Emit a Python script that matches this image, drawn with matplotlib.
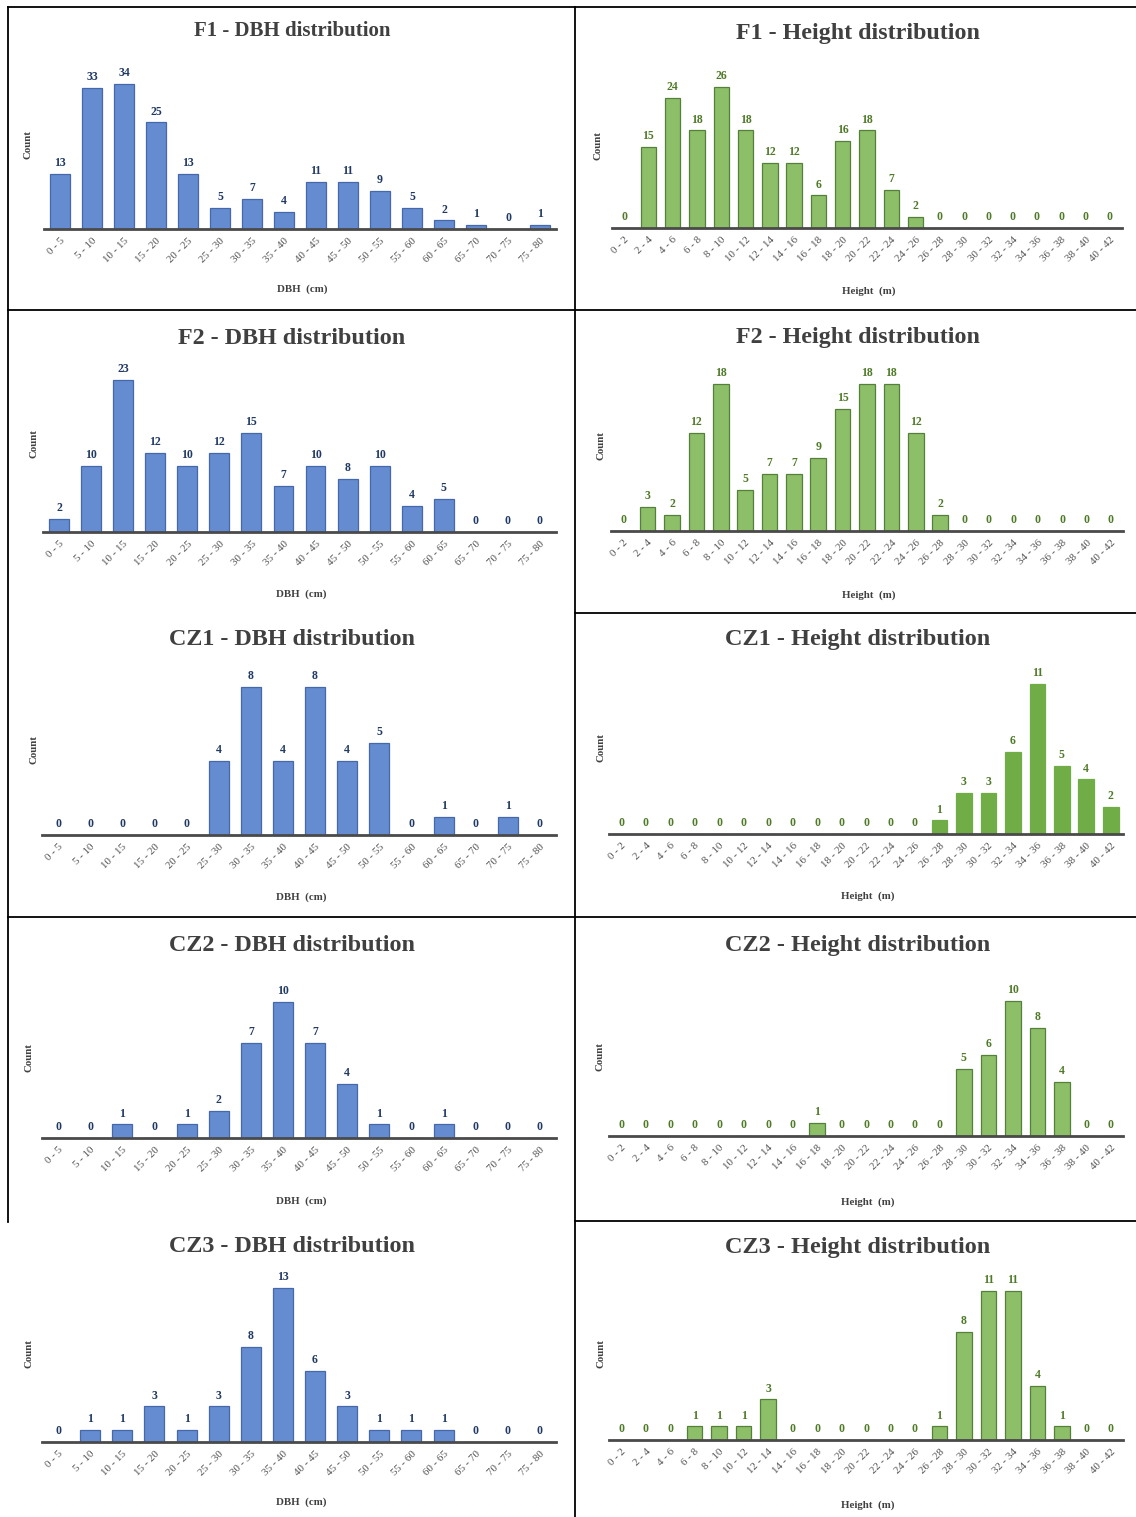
import matplotlib
matplotlib.use("Agg")
import matplotlib.pyplot as plt
from matplotlib.lines import Line2D

plt.rcParams["font.family"] = ["Liberation Serif", "DejaVu Serif"]

# ---- class labels ----
dbh_bins = ["0 - 5", "5 - 10", "10 - 15", "15 - 20", "20 - 25", "25 - 30", "30 - 35",
            "35 - 40", "40 - 45", "45 - 50", "50 - 55", "55 - 60", "60 - 65",
            "65 - 70", "70 - 75", "75 - 80"]
height_bins = ["0 - 2", "2 - 4", "4 - 6", "6 - 8", "8 - 10", "10 - 12", "12 - 14",
               "14 - 16", "16 - 18", "18 - 20", "20 - 22", "22 - 24", "24 - 26",
               "26 - 28", "28 - 30", "30 - 32", "32 - 34", "34 - 36", "36 - 38",
               "38 - 40", "40 - 42"]

# ---- tree counts per class ----
f1_dbh = [13, 33, 34, 25, 13, 5, 7, 4, 11, 11, 9, 5, 2, 1, 0, 1]
f1_height = [0, 15, 24, 18, 26, 18, 12, 12, 6, 16, 18, 7, 2, 0, 0, 0, 0, 0, 0, 0, 0]
f2_dbh = [2, 10, 23, 12, 10, 12, 15, 7, 10, 8, 10, 4, 5, 0, 0, 0]
f2_height = [0, 3, 2, 12, 18, 5, 7, 7, 9, 15, 18, 18, 12, 2, 0, 0, 0, 0, 0, 0, 0]
cz1_dbh = [0, 0, 0, 0, 0, 4, 8, 4, 8, 4, 5, 0, 1, 0, 1, 0]
cz1_height = [0, 0, 0, 0, 0, 0, 0, 0, 0, 0, 0, 0, 0, 1, 3, 3, 6, 11, 5, 4, 2]
cz2_dbh = [0, 0, 1, 0, 1, 2, 7, 10, 7, 4, 1, 0, 1, 0, 0, 0]
cz2_height = [0, 0, 0, 0, 0, 0, 0, 0, 1, 0, 0, 0, 0, 0, 5, 6, 10, 8, 4, 0, 0]
cz3_dbh = [0, 1, 1, 3, 1, 3, 8, 13, 6, 3, 1, 1, 1, 0, 0, 0]
cz3_height = [0, 0, 0, 1, 1, 1, 3, 0, 0, 0, 0, 0, 0, 1, 8, 11, 11, 4, 1, 0, 0]

W, H = 1136, 1517
fig = plt.figure(figsize=(W / 100, H / 100), dpi=100)


def fx(px):
    return px / W


def fy(py):
    return 1 - py / H


TITLE_C = "#404040"
TICK_C = "#505050"

styles = {
    "dbh": dict(face="#658BD0", edge="#4468AA", label="#1F3864", width=0.62,
                xlabel="DBH  (cm)"),
    "height": dict(face="#8CBF68", edge="#55803A", label="#4F7A28", width=0.64,
                   xlabel="Height  (m)"),
    "height_dark": dict(face="#70AD47", edge="#70AD47", label="#4F7A28", width=0.64,
                        xlabel="Height  (m)"),
}

# (title, bins, values, style, left px, right px, baseline px, bar-top px,
#  title y px, title size, xlabel y px, count x px)
panels = [
    ("F1 - DBH distribution", dbh_bins, f1_dbh, "dbh", 44, 556, 229, 84, 31, 15, 289, 28),
    ("F1 - Height distribution", height_bins, f1_height, "height", 612, 1122, 228, 87, 34, 17.3, 291, 598),
    ("F2 - DBH distribution", dbh_bins, f2_dbh, "dbh", 43, 556, 532, 380, 338, 17.4, 594, 34),
    ("F2 - Height distribution", height_bins, f2_height, "height", 611, 1123, 531, 384, 338, 17.3, 595, 601),
    ("CZ1 - DBH distribution", dbh_bins, cz1_dbh, "dbh", 42, 556, 835, 687, 639, 17.4, 897, 34),
    ("CZ1 - Height distribution", height_bins, cz1_height, "height_dark", 609, 1123, 834, 684, 640, 17.5, 896, 601),
    ("CZ2 - DBH distribution", dbh_bins, cz2_dbh, "dbh", 42, 556, 1138, 1002, 945, 17.4, 1201, 29),
    ("CZ2 - Height distribution", height_bins, cz2_height, "height", 609, 1123, 1136, 1001, 945, 17.5, 1202, 600),
    ("CZ3 - DBH distribution", dbh_bins, cz3_dbh, "dbh", 42, 556, 1442, 1288, 1246, 17.4, 1502, 29),
    ("CZ3 - Height distribution", height_bins, cz3_height, "height", 609, 1123, 1440, 1291, 1248, 17.5, 1505, 601),
]

for (title, bins, vals, sk, left, right, base, top, ty, tsize, xly, cx) in panels:
    st = styles[sk]
    vmax = max(vals)
    ppu = (base - top) / vmax
    axtop = top - 30
    ax = fig.add_axes([fx(left), fy(base), (right - left) / W, (base - axtop) / H])
    n = len(vals)
    ax.bar(range(n), vals, width=st["width"], color=st["face"],
           edgecolor=st["edge"], linewidth=0.9, zorder=2)
    ax.set_xlim(-0.5, n - 0.5)
    ax.set_ylim(0, (base - axtop) / ppu)
    for s in ["top", "right", "left"]:
        ax.spines[s].set_visible(False)
    ax.spines["bottom"].set_color("#4A4A4A")
    ax.spines["bottom"].set_linewidth(2)
    ax.spines["bottom"].set_zorder(3)
    ax.set_yticks([])
    ax.set_xticks(range(n))
    ax.set_xticklabels(bins, rotation=45, ha="right", rotation_mode="anchor",
                       fontsize=7.8, color=TICK_C)
    ax.tick_params(axis="x", length=0, pad=5)
    for i, v in enumerate(vals):
        ax.annotate(str(v), (i, v), xytext=(0, 3.5), textcoords="offset points",
                    ha="center", va="bottom", fontsize=8.5, fontweight="bold",
                    color=st["label"])
    pcx = (left + right) / 2
    fig.text(fx(292 if left < 300 else 858), fy(ty), title, ha="center", va="center",
             fontsize=tsize, fontweight="bold", color=TITLE_C)
    fig.text(fx(pcx + 2), fy(xly), st["xlabel"], ha="center", va="center",
             fontsize=7.8, fontweight="bold", color=TITLE_C)
    fig.text(fx(cx), fy((base + top) / 2 - 12), "Count", rotation=90,
             ha="center", va="center", fontsize=7.8, fontweight="bold", color=TITLE_C)

# ---- frame lines around the panels ----
segments = [
    ((8, 7), (575, 7)),
    ((575, 7), (1136, 7)),
    ((8, 7), (8, 1222)),
    ((575, 7), (575, 1517)),
    ((8, 310), (1136, 310)),
    ((575, 613), (1136, 613)),
    ((8, 917), (1136, 917)),
    ((575, 1221), (1136, 1221)),
]
for (x0, y0), (x1, y1) in segments:
    fig.add_artist(Line2D([fx(x0), fx(x1)], [fy(y0), fy(y1)], color="black",
                          linewidth=1.3))

fig.savefig("out.png", dpi=100, facecolor="white")
